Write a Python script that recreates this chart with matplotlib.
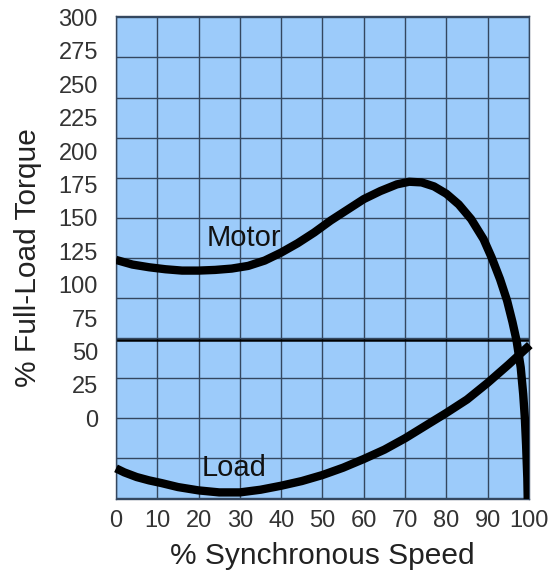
import numpy as np
import matplotlib
matplotlib.use("Agg")
import matplotlib.pyplot as plt

plt.rcParams['font.family'] = ['Liberation Sans', 'DejaVu Sans']

# kurva motor
motor_speed = [0, 4, 8, 12, 16, 20, 24, 28, 32, 36, 40, 44, 48, 52, 56, 60, 64, 68, 71, 74, 77, 80, 83, 86, 89, 91, 93, 94.7, 96, 97, 98, 98.6, 99, 99.3, 99.6, 99.7]
motor_torque = [118.5, 115, 113, 111.5, 110.5, 110.5, 111, 112, 114, 118, 124, 131, 139, 148, 156, 164, 170, 175, 177, 176.5, 173.5, 168, 160, 149, 134, 120, 104, 88, 72, 58, 38, 18, 0, -20, -45, -61]

# kurva beban
load_speed = [0, 2, 5, 8, 11, 15, 20, 25, 30, 35, 40, 45, 50, 55, 60, 65, 70, 75, 80, 85, 90, 95, 100.2]
load_torque = [-37.5, -40.5, -44, -46.5, -48.5, -51.5, -54, -55.5, -55.5, -53.5, -50.5, -47, -42.5, -37, -30.5, -23.5, -15, -5.5, 4, 14, 26.5, 40, 54.75]

rated_line = 58.5  # garis horisontal tebal

x_ticks = list(range(0, 101, 10))
y_ticks = list(range(0, 301, 25))
y_grid = list(range(-60, 301, 30))

fig = plt.figure(figsize=(5.56, 5.73), dpi=100)
ax = fig.add_axes([0.2086, 0.129, 0.7428, 0.843])
ax.set_facecolor('#9ccbfa')

ax.set_xlim(0, 100)
ax.set_ylim(-60.5, 301)

# garis grid
for gx in x_ticks:
    ax.axvline(gx, color='#34475f', lw=1.0, zorder=1)
for gy in y_grid:
    ax.axhline(gy, color='#34475f', lw=1.0, zorder=1)

ax.axhline(rated_line, color='black', lw=1.8, zorder=2)

ax.plot(motor_speed, motor_torque, color='black', lw=6, solid_capstyle='butt', solid_joinstyle='round', zorder=3)
ax.plot(load_speed, load_torque, color='black', lw=6, solid_capstyle='butt', solid_joinstyle='round', zorder=3, clip_on=False)

ax.text(31, 135, 'Motor', fontsize=21, ha='center', va='center', color='#111111', zorder=4)
ax.text(28.5, -37, 'Load', fontsize=21, ha='center', va='center', color='#111111', zorder=4)

ax.set_xticks(x_ticks)
ax.set_yticks(y_ticks)
ax.tick_params(axis='both', length=0, labelsize=17, labelcolor='#333333')
ax.tick_params(axis='y', pad=13)
ax.tick_params(axis='x', pad=8)

for s in ax.spines.values():
    s.set_color('#34475f')
    s.set_linewidth(1.0)

ax.set_xlabel('% Synchronous Speed', fontsize=21.5, color='#222222', labelpad=7)
ax.set_ylabel('% Full-Load Torque', fontsize=21.5, color='#222222', labelpad=12)

fig.savefig('out.png', dpi=100)
